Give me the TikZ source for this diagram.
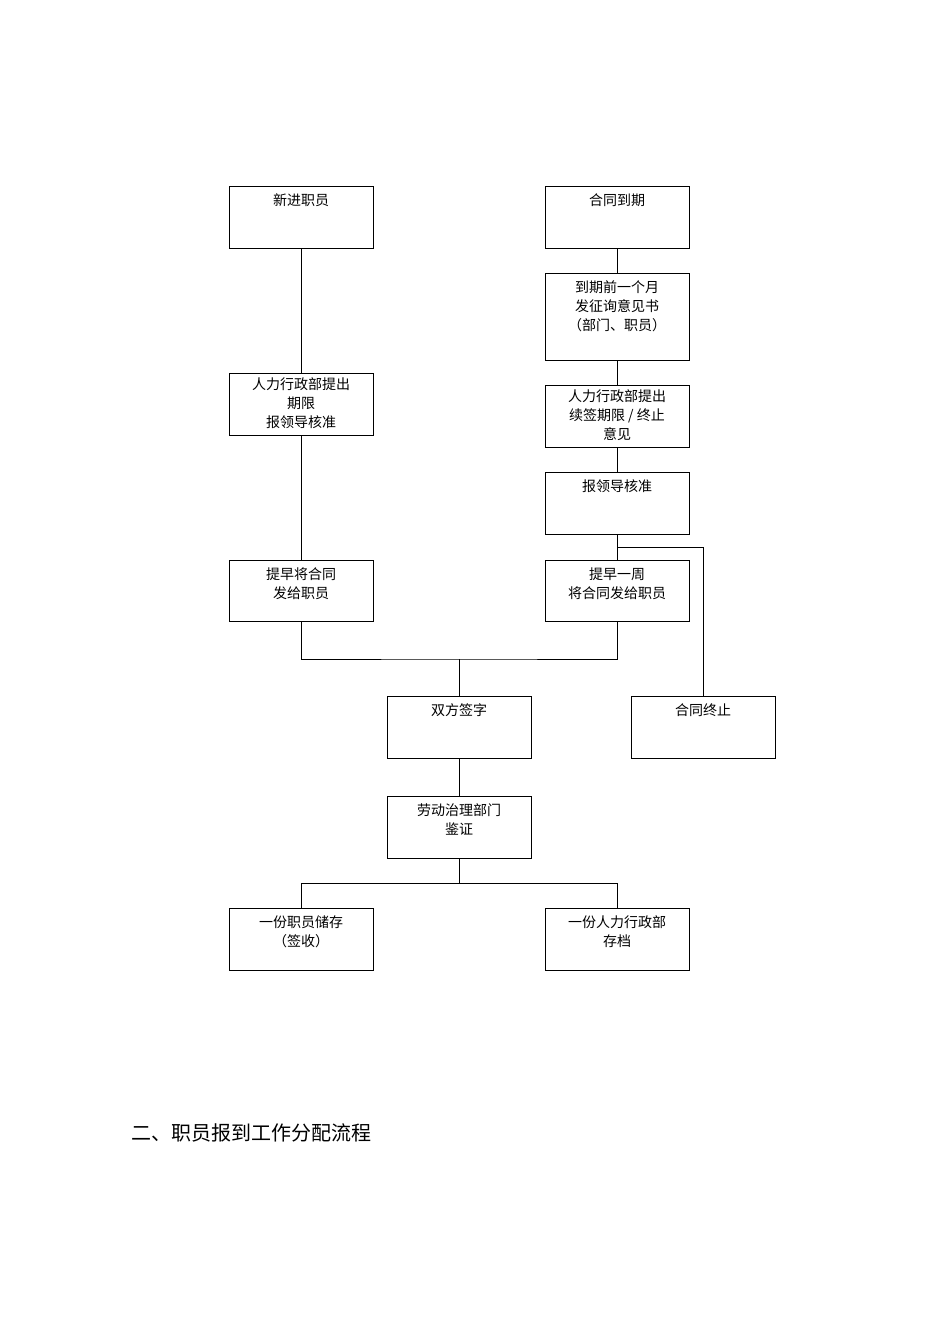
\documentclass[tikz,border=0pt]{standalone}
\usepackage{fontspec}
\newfontfamily\cjk{Noto Sans CJK SC}
\begin{document}
\begin{tikzpicture}[x=1pt,y=-1pt,
  box/.style={draw,line width=0.8pt,minimum width=144pt,inner sep=0pt},
  txt/.style={anchor=north,font=\cjk\fontsize{14}{19}\selectfont,align=center,inner sep=0pt,yshift=-8pt},
  ln/.style={line width=0.8pt}]
\useasboundingbox (0,0) rectangle (950,1344);
\node[box,minimum height=62pt] (a) at (301,217) {};
\node[txt] at (a.north) {新进职员};
\node[box,minimum height=62pt] (b) at (617,217) {};
\node[txt] at (b.north) {合同到期};
\node[box,minimum height=87pt] (c) at (617,316.5) {};
\node[txt] at (c.north) {到期前一个月\\发征询意见书\\（部门、职员）};
\node[box,minimum height=62pt] (d) at (301,404) {};
\node[txt,yshift=3pt] at (d.north) {人力行政部提出\\期限\\报领导核准};
\node[box,minimum height=62pt] (e) at (617,416) {};
\node[txt,yshift=3pt] at (e.north) {人力行政部提出\\续签期限 / 终止\\意见};
\node[box,minimum height=62pt] (f) at (617,503) {};
\node[txt] at (f.north) {报领导核准};
\node[box,minimum height=61pt] (g) at (301,590.5) {};
\node[txt] at (g.north) {提早将合同\\发给职员};
\node[box,minimum height=61pt] (h) at (617,590.5) {};
\node[txt] at (h.north) {提早一周\\将合同发给职员};
\node[box,minimum height=62pt] (i) at (459,727) {};
\node[txt] at (i.north) {双方签字};
\node[box,minimum height=62pt] (j) at (703,727) {};
\node[txt] at (j.north) {合同终止};
\node[box,minimum height=62pt] (k) at (459,827) {};
\node[txt] at (k.north) {劳动治理部门\\鉴证};
\node[box,minimum height=62pt] (l) at (301,939) {};
\node[txt] at (l.north) {一份职员储存\\（签收）};
\node[box,minimum height=62pt] (m) at (617,939) {};
\node[txt] at (m.north) {一份人力行政部\\存档};
\draw[ln] (a) -- (d); \draw[ln] (d) -- (g);
\draw[ln] (b) -- (c); \draw[ln] (c) -- (e); \draw[ln] (e) -- (f); \draw[ln] (f) -- (h);
\coordinate (br) at (617,547);
\draw[ln] (br) -| (j.north);
\coordinate (mj) at (459,659);
\draw[ln] (g.south) |- (mj) -| (h.south);
\draw[ln] (mj) -- (i.north);
\draw[ln] (i) -- (k);
\coordinate (sp) at (459,883);
\draw[ln] (k.south) -- (sp);
\draw[ln] (l.north) |- (sp) -| (m.north);
\node[anchor=west,font=\cjk\fontsize{20}{24}\selectfont,inner sep=0pt] (t) at (131,1133) {二、职员报到工作分配流程};
\end{tikzpicture}
\end{document}
